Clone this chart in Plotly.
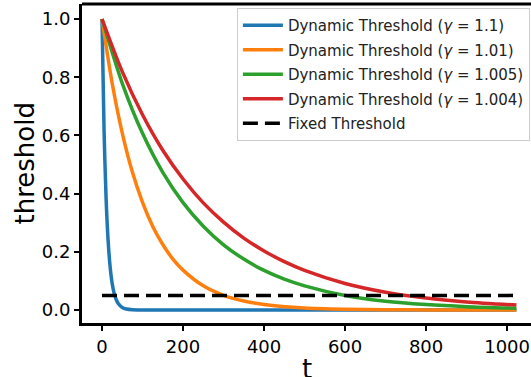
import plotly.graph_objects as go

# Values
t_blue = [0, 5, 10, 15, 20, 25, 30, 35, 40, 50, 60, 75, 100, 200, 1023]
v_blue = [1.0, 0.62, 0.386, 0.24, 0.149, 0.092, 0.057, 0.036, 0.022, 0.0085, 0.0033, 0.0008, 0.0001, 0.0, 0.0]

t_orange = [0, 25, 50, 75, 100, 125, 150, 175, 200, 250, 300, 350, 400, 500, 600, 700, 800, 1023]
v_orange = [1.0, 0.780, 0.608, 0.474, 0.370, 0.288, 0.225, 0.175, 0.137, 0.083, 0.0505, 0.031, 0.019,
            0.0069, 0.0026, 0.0009, 0.0003, 0.00004]

t_green = [0, 50, 100, 150, 200, 250, 300, 350, 400, 450, 500, 600, 700, 800, 900, 1023]
v_green = [1.0, 0.779, 0.607, 0.473, 0.369, 0.288, 0.224, 0.175, 0.136, 0.106, 0.083, 0.050, 0.030,
           0.0185, 0.0113, 0.0061]

t_red = [0, 50, 100, 150, 200, 250, 300, 350, 400, 450, 500, 600, 700, 800, 900, 1023]
v_red = [1.0, 0.819, 0.671, 0.549, 0.450, 0.368, 0.302, 0.247, 0.203, 0.166, 0.136, 0.091, 0.061,
         0.041, 0.0276, 0.0168]

t_fixed = [0, 1023]
v_fixed = [0.05, 0.05]

names = ["Dynamic Threshold (<i>γ</i> = 1.1)", "Dynamic Threshold (<i>γ</i> = 1.01)",
         "Dynamic Threshold (<i>γ</i> = 1.005)", "Dynamic Threshold (<i>γ</i> = 1.004)",
         "Fixed Threshold"]
colors = ["#1f77b4", "#ff7f0e", "#2ca02c", "#d62728", "black"]

x_ticks = [0, 200, 400, 600, 800, 1000]
y_ticks = [0.0, 0.2, 0.4, 0.6, 0.8, 1.0]

fig = go.Figure()
series = [(t_blue, v_blue), (t_orange, v_orange), (t_green, v_green), (t_red, v_red)]
for i, (tx, vy) in enumerate(series):
    fig.add_trace(go.Scatter(x=tx, y=vy, mode="lines", name=names[i], legendgroup=str(i),
                             line=dict(color=colors[i], width=3.5, shape="spline", smoothing=0.8)))
fig.add_trace(go.Scatter(x=t_fixed, y=v_fixed, mode="lines", name=names[4], legendgroup="4",
                         line=dict(color="black", width=3.5, dash="15px,7px")))

axis_common = dict(showgrid=False, zeroline=False, ticks="outside", ticklen=5, tickwidth=1.8,
                   tickcolor="black", showline=True, linecolor="black", linewidth=2.8,
                   automargin=False, ticklabeloverflow="allow",
                   tickfont=dict(family="DejaVu Sans", size=18, color="black"))
fig.update_xaxes(range=[-49.4, 1059], tickvals=x_ticks, mirror=False, **axis_common)
fig.update_yaxes(range=[-0.0447, 1.0515], tickvals=y_ticks, tickformat=".1f", mirror=False, **axis_common)
# top spine
fig.add_shape(type="line", xref="paper", yref="paper", x0=0, x1=1, y0=1, y1=1,
              line=dict(color="black", width=2.8))

# axis titles
fig.add_annotation(text="t", xref="paper", yref="paper", x=0.502, y=-0.09, xanchor="center", yanchor="top",
                   showarrow=False, font=dict(family="DejaVu Sans", size=26, color="black"))
fig.add_annotation(text="threshold", xref="paper", yref="paper", x=-0.127, y=0.5, xanchor="center",
                   yanchor="middle", textangle=-90, showarrow=False,
                   font=dict(family="DejaVu Sans", size=26, color="black"))

fig.update_layout(
    width=531, height=377,
    margin=dict(l=82, r=0, t=4, b=54, autoexpand=False),
    plot_bgcolor="white", paper_bgcolor="white",
    font=dict(family="DejaVu Sans", color="black"),
    legend=dict(x=0.345, y=0.9875, xanchor="left", yanchor="top",
                bgcolor="white", bordercolor="#cccccc", borderwidth=1,
                font=dict(family="DejaVu Sans", size=15, color="#222"),
                tracegroupgap=2, itemwidth=40),
    showlegend=True,
)
fig.write_html("out.html", config={"displayModeBar": False},
               post_script="document.body.style.margin='0';document.body.style.overflow='hidden';")
